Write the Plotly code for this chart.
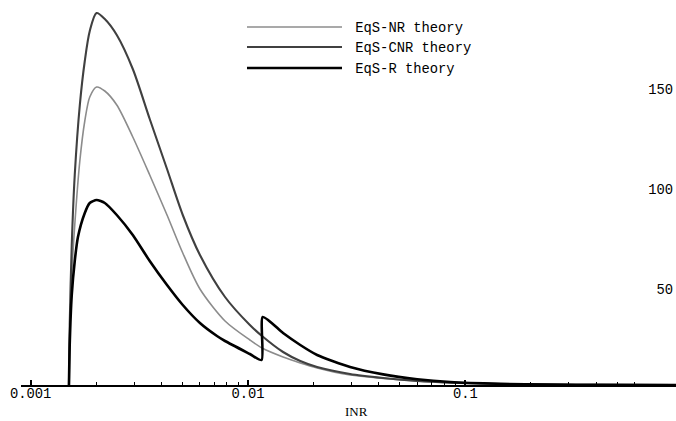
import plotly.graph_objects as go

# ---- data ----
inr_nr = [0.0015, 0.001512, 0.001545, 0.001595, 0.001683, 0.001774, 0.00187, 0.00201,
          0.002193, 0.00249, 0.00295, 0.00353, 0.00424, 0.00501, 0.00601, 0.00784,
          0.0102, 0.0116, 0.0145, 0.0174, 0.0208, 0.0295, 0.0419, 0.0601, 0.0853,
          0.145, 0.246, 0.419, 0.94]
val_nr = [0, 25, 55, 80, 112, 132, 144, 149,
          147, 140, 124, 105, 85, 66, 48, 32,
          22.5, 18.5, 14, 11, 8.5, 5, 3.3, 2, 1.1,
          0.5, 0.2, 0.1, 0.02]

inr_cnr = [0.0015, 0.001512, 0.001545, 0.001595, 0.001683, 0.001774, 0.00187, 0.00201,
           0.002193, 0.00249, 0.00295, 0.00353, 0.00424, 0.00501, 0.00601, 0.00784,
           0.0102, 0.0116, 0.0145, 0.0174, 0.0208, 0.0295, 0.0419, 0.0601, 0.0853,
           0.145, 0.246, 0.419, 0.94]
val_cnr = [0, 30, 70, 105, 140, 162, 177, 186,
           183, 175, 158, 133, 108, 85, 65, 44,
           30, 24.5, 16.5, 12, 9, 5.5, 3.5, 2, 1.2,
           0.5, 0.2, 0.1, 0.02]

inr_r = [0.0015, 0.001512, 0.001545, 0.001595, 0.00165, 0.001774, 0.00187, 0.00201,
         0.002193, 0.00249, 0.00295, 0.00353, 0.00424, 0.00501, 0.00601, 0.0072,
         0.00784, 0.0102, 0.01155, 0.0117, 0.0145, 0.0174, 0.0208, 0.0295, 0.0419,
         0.0601, 0.0853, 0.145, 0.246, 0.419, 0.94]
val_r = [0, 20, 45, 62, 74, 86, 91, 92.5,
         91, 85, 75, 62, 50, 40, 31, 24.5,
         22, 15.5, 12.5, 34, 26, 20, 15, 9, 5.3,
         2.9, 1.5, 0.6, 0.2, 0.08, 0.02]

series_names = ["EqS-NR theory", "EqS-CNR theory", "EqS-R theory"]
x_title = "INR"
x_tickvals = [0.001, 0.01, 0.1]
x_ticktext = ["0.001", "0.01", "0.1"]
x_minor = [m * 10 ** e for e in (-4, -3, -2, -1) for m in range(2, 10)]
y_tickvals = [50, 100, 150]

MONO = "Liberation Mono"

fig = go.Figure()
fig.add_trace(go.Scatter(x=inr_nr, y=val_nr, mode="lines", name=" " + series_names[0],
                         legend="legend", hoverinfo="skip",
                         line=dict(color="#8c8c8c", width=1.6, shape="spline", smoothing=0.8)))
fig.add_trace(go.Scatter(x=inr_cnr, y=val_cnr, mode="lines", name=" " + series_names[1],
                         legend="legend2", hoverinfo="skip",
                         line=dict(color="#404040", width=2.1, shape="spline", smoothing=0.8)))
fig.add_trace(go.Scatter(x=inr_r, y=val_r, mode="lines", name=" " + series_names[2],
                         legend="legend3", hoverinfo="skip",
                         line=dict(color="#000000", width=2.6, shape="spline", smoothing=0.6)))

PLOT_H = 385.0
leg_common = dict(x=0.3374, xanchor="left", yanchor="middle",
                  bgcolor="rgba(0,0,0,0)", itemwidth=95,
                  font=dict(family=MONO, size=13.8, color="black"))

fig.update_layout(
    width=676, height=421,
    margin=dict(l=21, r=0, t=0, b=36, autoexpand=False),
    paper_bgcolor="white", plot_bgcolor="white",
    font=dict(family=MONO, size=13.8, color="black"),
    showlegend=True,
    legend=dict(y=1 - 27 / PLOT_H, **leg_common),
    legend2=dict(y=1 - 47 / PLOT_H, **leg_common),
    legend3=dict(y=1 - 68 / PLOT_H, **leg_common),
    xaxis=dict(type="log", range=[-3.0446, -0.0304], automargin=False,
               showline=True, linecolor="black", linewidth=2,
               showgrid=False, zeroline=False,
               tickmode="array", tickvals=x_tickvals, ticktext=x_ticktext,
               ticks="inside", ticklen=5, tickwidth=1.5, tickcolor="black",
               minor=dict(tickmode="array", tickvals=x_minor, ticks="inside",
                          ticklen=3, tickwidth=1, tickcolor="black", showgrid=False),
               tickfont=dict(family=MONO, size=13.8, color="black"),
               ticklabelstandoff=-6),
    yaxis=dict(range=[0, 192.5], automargin=False,
               side="right", ticklabelposition="inside",
               showline=False, showgrid=False, zeroline=False,
               tickmode="array", tickvals=y_tickvals, ticks="",
               ticklabelshift=4,
               tickfont=dict(family=MONO, size=13.8, color="black")),
    annotations=[dict(text=x_title, xref="paper", yref="paper",
                      x=(356 - 21) / 655, y=1 - 411 / PLOT_H,
                      xanchor="center", yanchor="middle", showarrow=False,
                      font=dict(family="Liberation Serif", size=13, color="black"))],
)

fig.write_html("out.html",
               config={"displayModeBar": False},
               post_script="document.body.style.margin='0px';document.body.style.padding='0px';")
